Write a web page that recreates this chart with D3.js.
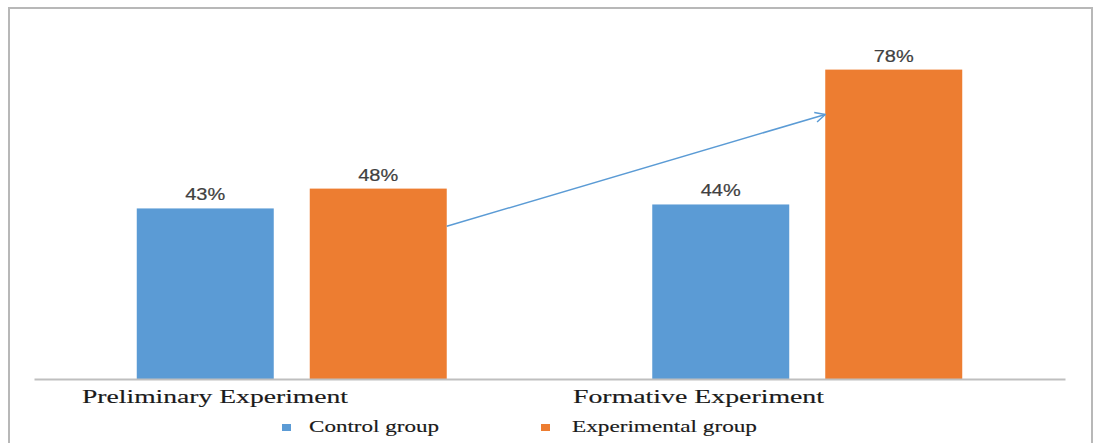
<!DOCTYPE html>
<html><head><meta charset="utf-8">
<script src="https://cdn.jsdelivr.net/npm/d3@7"></script>
<style>body{margin:0;background:#fff}svg{display:block}</style>
</head><body><svg id="c" width="1099" height="443"></svg>
<script>
const categories = ["Preliminary Experiment", "Formative Experiment"];
const seriesNames = ["Control group", "Experimental group"];
const controlValues = [43, 44];
const experimentalValues = [48, 78];
const valueLabels = [["43%", "48%"], ["44%", "78%"]];
const arrowValues = [38.5, 66.7];

(function () {
const colors = ["#5B9BD5", "#ED7D31"];
const svg = d3.select("#c");

// frame
svg.append("rect").attr("x", 9).attr("y", 8).attr("width", 1083).attr("height", 460)
  .attr("fill", "#fff").attr("stroke", "#b8b8b8").attr("stroke-width", 2);

const plotLeft = 34, plotRight = 1065, plotTop = 22, base = 379;
const x0 = d3.scaleBand().domain(categories).range([plotLeft, plotRight]).padding(0);
const x1 = d3.scaleBand().domain(seriesNames).range([0, x0.bandwidth()])
  .paddingInner(36 / 173).paddingOuter(0.594);
const y = d3.scaleLinear().domain([0, 90]).range([base, plotTop]);

const data = categories.map((c, i) => ({
  cat: c,
  vals: [controlValues[i], experimentalValues[i]],
  labels: valueLabels[i]
}));

const g = svg.append("g");
data.forEach(d => {
  seriesNames.forEach((s, j) => {
    const bx = x0(d.cat) + x1(s);
    g.append("rect").attr("x", bx).attr("y", y(d.vals[j]))
      .attr("width", x1.bandwidth()).attr("height", base - y(d.vals[j]))
      .attr("fill", colors[j]);
    g.append("text").attr("x", bx + x1.bandwidth() / 2).attr("y", y(d.vals[j]) - 8)
      .attr("text-anchor", "middle")
      .attr("font-family", "Liberation Sans, Arial, sans-serif")
      .attr("font-size", 16).attr("fill", "#404040")
      .attr("stroke", "#404040").attr("stroke-width", 0.2)
      .attr("textLength", 40).attr("lengthAdjust", "spacingAndGlyphs")
      .text(d.labels[j]);
  });
});

// baseline axis
const xAxis = d3.axisBottom(x0).tickSize(0).tickFormat("");
const axG = svg.append("g").attr("transform", `translate(0,${base})`).call(xAxis);
axG.select(".domain").attr("stroke", "#bfbfbf").attr("stroke-width", 2);

// category labels
const labelShift = [-76.75, -108.75];
const labelWidth = [266, 251];
categories.forEach((c, i) => {
  svg.append("text")
    .attr("x", x0(c) + x0.bandwidth() / 2 + labelShift[i])
    .attr("y", 403).attr("text-anchor", "middle")
    .attr("font-family", "Liberation Serif, Times New Roman, serif")
    .attr("font-size", 19).attr("fill", "#1a1a1a")
    .attr("stroke", "#1a1a1a").attr("stroke-width", 0.15)
    .attr("textLength", labelWidth[i]).attr("lengthAdjust", "spacingAndGlyphs")
    .text(c);
});

// arrow
const defs = svg.append("defs");
defs.append("marker").attr("id", "ah").attr("viewBox", "0 0 12 12")
  .attr("refX", 11).attr("refY", 6).attr("markerWidth", 12).attr("markerHeight", 12)
  .attr("markerUnits", "userSpaceOnUse").attr("orient", "auto")
  .append("path").attr("d", "M1,1 L11,6 L1,11").attr("fill", "none")
  .attr("stroke", "#5B9BD5").attr("stroke-width", 1.5);
const ax1 = x0(categories[0]) + x1(seriesNames[1]) + x1.bandwidth();
const ax2 = x0(categories[1]) + x1(seriesNames[1]);
svg.append("line").attr("x1", ax1).attr("y1", y(arrowValues[0]))
  .attr("x2", ax2).attr("y2", y(arrowValues[1]))
  .attr("stroke", "#5B9BD5").attr("stroke-width", 1.5).attr("marker-end", "url(#ah)");

// legend
const legX = [282, 541], legTextX = [309, 572], legW = [130, 185];
seriesNames.forEach((s, j) => {
  svg.append("rect").attr("x", legX[j]).attr("y", 424).attr("width", 9).attr("height", 7)
    .attr("fill", colors[j]);
  svg.append("text").attr("x", legTextX[j]).attr("y", 432)
    .attr("font-family", "Liberation Serif, Times New Roman, serif")
    .attr("font-size", 17).attr("fill", "#1a1a1a")
    .attr("stroke", "#1a1a1a").attr("stroke-width", 0.15)
    .attr("textLength", legW[j]).attr("lengthAdjust", "spacingAndGlyphs")
    .text(s);
});
})();
</script></body></html>
